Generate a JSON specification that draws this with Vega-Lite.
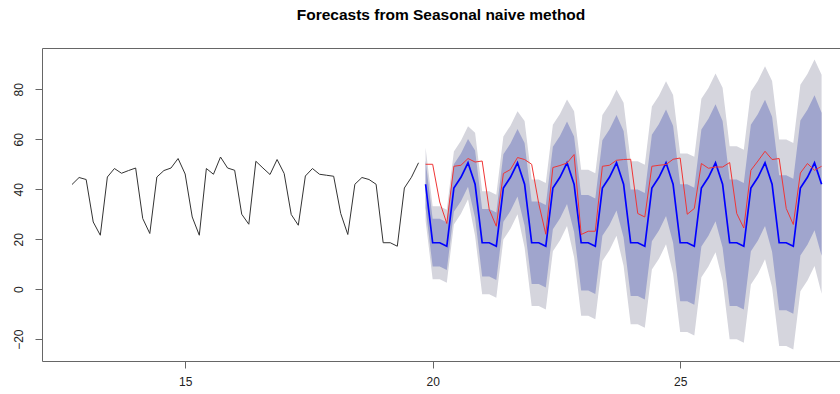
{
  "$schema": "https://vega.github.io/schema/vega-lite/v6.json",
  "autosize": {"type": "none"},
  "padding": {"left": 42, "top": 48, "right": 0, "bottom": 33},
  "width": 798,
  "height": 313,
  "background": "white",
  "config": {
    "view": {"stroke": null},
    "font": "Liberation Sans",
    "axis": {"grid": false, "domainColor": "#666", "tickColor": "#666", "labelColor": "#222", "labelFontSize": 12, "labelFont": "Liberation Sans", "tickSize": 7, "title": null}
  },
  "title": {"text": "Forecasts from Seasonal naive method", "fontSize": 15.5, "fontWeight": "bold", "font": "Liberation Sans", "color": "#000", "anchor": "middle", "dx": 0, "baseline": "bottom", "offset": 10},
  "datasets": {
    "hist": [
      {"t": 12.7143, "y": 41.9}, {"t": 12.8571, "y": 44.7}, {"t": 13.0, "y": 43.9}, {"t": 13.1429, "y": 26.9}, {"t": 13.2857, "y": 21.6}, {"t": 13.4286, "y": 44.9}, {"t": 13.5714, "y": 48.3},
      {"t": 13.7143, "y": 46.4}, {"t": 13.8571, "y": 47.5}, {"t": 14.0, "y": 48.5}, {"t": 14.1429, "y": 28.3}, {"t": 14.2857, "y": 22.3}, {"t": 14.4286, "y": 44.9}, {"t": 14.5714, "y": 47.5},
      {"t": 14.7143, "y": 48.5}, {"t": 14.8571, "y": 52.3}, {"t": 15.0, "y": 46.1}, {"t": 15.1429, "y": 28.9}, {"t": 15.2857, "y": 21.6}, {"t": 15.4286, "y": 48.3}, {"t": 15.5714, "y": 46.0},
      {"t": 15.7143, "y": 52.9}, {"t": 15.8571, "y": 48.5}, {"t": 16.0, "y": 47.6}, {"t": 16.1429, "y": 30.0}, {"t": 16.2857, "y": 26.0}, {"t": 16.4286, "y": 51.2}, {"t": 16.5714, "y": 48.5},
      {"t": 16.7143, "y": 45.9}, {"t": 16.8571, "y": 51.9}, {"t": 17.0, "y": 46.3}, {"t": 17.1429, "y": 29.9}, {"t": 17.2857, "y": 25.6}, {"t": 17.4286, "y": 45.3}, {"t": 17.5714, "y": 48.3},
      {"t": 17.7143, "y": 46.0}, {"t": 17.8571, "y": 45.6}, {"t": 18.0, "y": 45.2}, {"t": 18.1429, "y": 30.3}, {"t": 18.2857, "y": 21.9}, {"t": 18.4286, "y": 42.0}, {"t": 18.5714, "y": 44.7},
      {"t": 18.7143, "y": 43.9}, {"t": 18.8571, "y": 42.0}, {"t": 19.0, "y": 18.6}, {"t": 19.1429, "y": 18.6}, {"t": 19.2857, "y": 17.2}, {"t": 19.4286, "y": 40.5}, {"t": 19.5714, "y": 44.8},
      {"t": 19.7143, "y": 50.6}
    ],
    "fc": [
      {"t": 19.8571, "m": 42, "l80": 32.45, "h80": 51.55, "l95": 27.4, "h95": 56.6, "a": 50},
      {"t": 20.0, "m": 18.6, "l80": 9.05, "h80": 28.15, "l95": 4.0, "h95": 33.2, "a": 50},
      {"t": 20.1429, "m": 18.6, "l80": 9.05, "h80": 28.15, "l95": 4.0, "h95": 33.2, "a": 34.9},
      {"t": 20.2857, "m": 17.2, "l80": 7.65, "h80": 26.75, "l95": 2.6, "h95": 31.8, "a": 26.3},
      {"t": 20.4286, "m": 40.5, "l80": 30.95, "h80": 50.05, "l95": 25.9, "h95": 55.1, "a": 49.2},
      {"t": 20.5714, "m": 44.8, "l80": 35.25, "h80": 54.35, "l95": 30.2, "h95": 59.4, "a": 49.6},
      {"t": 20.7143, "m": 50.6, "l80": 41.05, "h80": 60.15, "l95": 36.0, "h95": 65.2, "a": 52.3},
      {"t": 20.8571, "m": 42, "l80": 28.49, "h80": 55.51, "l95": 21.35, "h95": 62.65, "a": 50.9},
      {"t": 21.0, "m": 18.6, "l80": 5.09, "h80": 32.11, "l95": -2.05, "h95": 39.25, "a": 51.3},
      {"t": 21.1429, "m": 18.6, "l80": 5.09, "h80": 32.11, "l95": -2.05, "h95": 39.25, "a": 31.9},
      {"t": 21.2857, "m": 17.2, "l80": 3.69, "h80": 30.71, "l95": -3.45, "h95": 37.85, "a": 25.2},
      {"t": 21.4286, "m": 40.5, "l80": 26.99, "h80": 54.01, "l95": 19.85, "h95": 61.15, "a": 46.3},
      {"t": 21.5714, "m": 44.8, "l80": 31.29, "h80": 58.31, "l95": 24.15, "h95": 65.45, "a": 47.9},
      {"t": 21.7143, "m": 50.6, "l80": 37.09, "h80": 64.11, "l95": 29.95, "h95": 71.25, "a": 52.7},
      {"t": 21.8571, "m": 42, "l80": 25.46, "h80": 58.54, "l95": 16.71, "h95": 67.29, "a": 51.9},
      {"t": 22.0, "m": 18.6, "l80": 2.06, "h80": 35.14, "l95": -6.69, "h95": 43.89, "a": 50},
      {"t": 22.1429, "m": 18.6, "l80": 2.06, "h80": 35.14, "l95": -6.69, "h95": 43.89, "a": 34.3},
      {"t": 22.2857, "m": 17.2, "l80": 0.66, "h80": 33.74, "l95": -8.09, "h95": 42.49, "a": 22},
      {"t": 22.4286, "m": 40.5, "l80": 23.96, "h80": 57.04, "l95": 15.21, "h95": 65.79, "a": 48.7},
      {"t": 22.5714, "m": 44.8, "l80": 28.26, "h80": 61.34, "l95": 19.51, "h95": 70.09, "a": 49.5},
      {"t": 22.7143, "m": 50.6, "l80": 34.06, "h80": 67.14, "l95": 25.31, "h95": 75.89, "a": 50.5},
      {"t": 22.8571, "m": 42, "l80": 22.9, "h80": 61.1, "l95": 12.8, "h95": 71.2, "a": 53.9},
      {"t": 23.0, "m": 18.6, "l80": -0.5, "h80": 37.7, "l95": -10.6, "h95": 47.8, "a": 21.9},
      {"t": 23.1429, "m": 18.6, "l80": -0.5, "h80": 37.7, "l95": -10.6, "h95": 47.8, "a": 23.2},
      {"t": 23.2857, "m": 17.2, "l80": -1.9, "h80": 36.3, "l95": -12.0, "h95": 46.4, "a": 23.2},
      {"t": 23.4286, "m": 40.5, "l80": 21.4, "h80": 59.6, "l95": 11.3, "h95": 69.7, "a": 49.2},
      {"t": 23.5714, "m": 44.8, "l80": 25.7, "h80": 63.9, "l95": 15.6, "h95": 74.0, "a": 49.6},
      {"t": 23.7143, "m": 50.6, "l80": 31.5, "h80": 69.7, "l95": 21.4, "h95": 79.8, "a": 51.6},
      {"t": 23.8571, "m": 42, "l80": 20.65, "h80": 63.35, "l95": 9.35, "h95": 74.65, "a": 51.9},
      {"t": 24.0, "m": 18.6, "l80": -2.75, "h80": 39.95, "l95": -14.05, "h95": 51.25, "a": 52},
      {"t": 24.1429, "m": 18.6, "l80": -2.75, "h80": 39.95, "l95": -14.05, "h95": 51.25, "a": 30.3},
      {"t": 24.2857, "m": 17.2, "l80": -4.15, "h80": 38.55, "l95": -15.45, "h95": 49.85, "a": 28.9},
      {"t": 24.4286, "m": 40.5, "l80": 19.15, "h80": 61.85, "l95": 7.85, "h95": 73.15, "a": 49.2},
      {"t": 24.5714, "m": 44.8, "l80": 23.45, "h80": 66.15, "l95": 12.15, "h95": 77.45, "a": 49.6},
      {"t": 24.7143, "m": 50.6, "l80": 29.25, "h80": 71.95, "l95": 17.95, "h95": 83.25, "a": 49.9},
      {"t": 24.8571, "m": 42, "l80": 18.61, "h80": 65.39, "l95": 6.24, "h95": 77.76, "a": 52},
      {"t": 25.0, "m": 18.6, "l80": -4.79, "h80": 41.99, "l95": -17.16, "h95": 54.36, "a": 52.5},
      {"t": 25.1429, "m": 18.6, "l80": -4.79, "h80": 41.99, "l95": -17.16, "h95": 54.36, "a": 30.0},
      {"t": 25.2857, "m": 17.2, "l80": -6.19, "h80": 40.59, "l95": -18.56, "h95": 52.96, "a": 32.3},
      {"t": 25.4286, "m": 40.5, "l80": 17.11, "h80": 63.89, "l95": 4.74, "h95": 76.26, "a": 50.3},
      {"t": 25.5714, "m": 44.8, "l80": 21.41, "h80": 68.19, "l95": 9.04, "h95": 80.56, "a": 48.4},
      {"t": 25.7143, "m": 50.6, "l80": 27.21, "h80": 73.99, "l95": 14.84, "h95": 86.36, "a": 48.9},
      {"t": 25.8571, "m": 42, "l80": 16.73, "h80": 67.27, "l95": 3.37, "h95": 80.63, "a": 48.9},
      {"t": 26.0, "m": 18.6, "l80": -6.67, "h80": 43.87, "l95": -20.03, "h95": 57.23, "a": 50.7},
      {"t": 26.1429, "m": 18.6, "l80": -6.67, "h80": 43.87, "l95": -20.03, "h95": 57.23, "a": 30.3},
      {"t": 26.2857, "m": 17.2, "l80": -8.07, "h80": 42.47, "l95": -21.43, "h95": 55.83, "a": 24.5},
      {"t": 26.4286, "m": 40.5, "l80": 15.23, "h80": 65.77, "l95": 1.87, "h95": 79.13, "a": 47.6},
      {"t": 26.5714, "m": 44.8, "l80": 19.53, "h80": 70.07, "l95": 6.17, "h95": 83.43, "a": 51.3},
      {"t": 26.7143, "m": 50.6, "l80": 25.33, "h80": 75.87, "l95": 11.97, "h95": 89.23, "a": 55.2},
      {"t": 26.8571, "m": 42, "l80": 14.99, "h80": 69.01, "l95": 0.71, "h95": 83.29, "a": 51.9},
      {"t": 27.0, "m": 18.6, "l80": -8.41, "h80": 45.61, "l95": -22.69, "h95": 59.89, "a": 52.3},
      {"t": 27.1429, "m": 18.6, "l80": -8.41, "h80": 45.61, "l95": -22.69, "h95": 59.89, "a": 32.3},
      {"t": 27.2857, "m": 17.2, "l80": -9.81, "h80": 44.21, "l95": -24.09, "h95": 58.49, "a": 25.9},
      {"t": 27.4286, "m": 40.5, "l80": 13.49, "h80": 67.51, "l95": -0.79, "h95": 81.79, "a": 46.5},
      {"t": 27.5714, "m": 44.8, "l80": 17.79, "h80": 71.81, "l95": 3.51, "h95": 86.09, "a": 50.3},
      {"t": 27.7143, "m": 50.6, "l80": 23.59, "h80": 77.61, "l95": 9.31, "h95": 91.89, "a": 47.6},
      {"t": 27.8571, "m": 42, "l80": 13.35, "h80": 70.65, "l95": -1.8, "h95": 85.8, "a": 49.2}
    ]
  },
  "resolve": {"axis": {"x": "independent", "y": "independent"}},
  "layer": [
    {
      "data": {"name": "fc"},
      "mark": {"type": "area", "color": "#D5D5DD", "opacity": 1, "interpolate": "linear"},
      "encoding": {
        "x": {"field": "t", "type": "quantitative", "scale": {"domain": [12.108, 28.229], "nice": false, "zero": false}, "axis": {"orient": "bottom", "values": [15, 20, 25], "labelPadding": 8, "labelFontSize": 12}},
        "y": {"field": "l95", "type": "quantitative", "scale": {"domain": [-28.73, 96.53], "nice": false, "zero": false}, "axis": {"orient": "left", "values": [-20, 0, 20, 40, 60, 80], "labelAngle": -90, "labelAlign": "center", "labelBaseline": "bottom", "labelPadding": 10}},
        "y2": {"field": "h95"}
      }
    },
    {
      "data": {"name": "fc"},
      "mark": {"type": "area", "color": "#A0A5CD", "opacity": 1, "interpolate": "linear"},
      "encoding": {
        "x": {"field": "t", "type": "quantitative", "axis": {"orient": "top", "labels": false, "ticks": false, "domain": true}},
        "y": {"field": "l80", "type": "quantitative", "axis": null},
        "y2": {"field": "h80"}
      }
    },
    {
      "data": {"name": "hist"},
      "mark": {"type": "line", "color": "#333333", "strokeWidth": 1},
      "encoding": {
        "x": {"field": "t", "type": "quantitative", "axis": null},
        "y": {"field": "y", "type": "quantitative", "axis": null}
      }
    },
    {
      "data": {"name": "fc"},
      "mark": {"type": "line", "color": "#0000FF", "strokeWidth": 1.7},
      "encoding": {
        "x": {"field": "t", "type": "quantitative", "axis": null},
        "y": {"field": "m", "type": "quantitative", "axis": null}
      }
    },
    {
      "data": {"name": "fc"},
      "mark": {"type": "line", "color": "#F03535", "strokeWidth": 1},
      "encoding": {
        "x": {"field": "t", "type": "quantitative", "axis": null},
        "y": {"field": "a", "type": "quantitative", "axis": null}
      }
    }
  ]
}
